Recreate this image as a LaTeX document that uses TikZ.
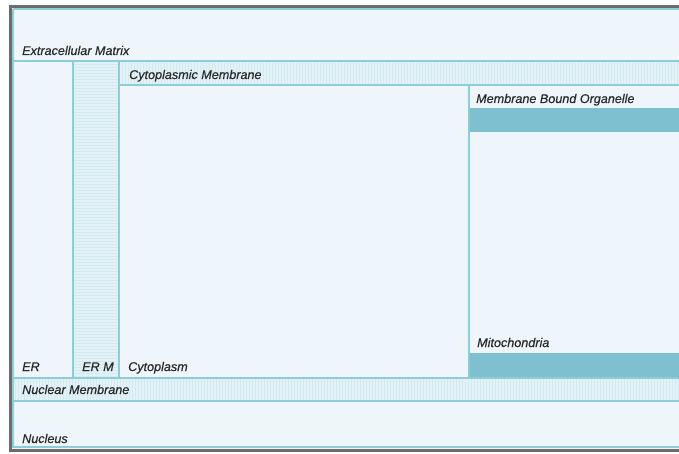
\documentclass[tikz,border=0pt]{standalone}
\usepackage{fontspec}
\setmainfont{Liberation Sans}
\newfontfamily\lblfont[FakeBold=0.5]{Liberation Sans}
\definecolor{cellbg}{HTML}{EEF5FB}
\definecolor{wallc}{HTML}{8DCDD8}
\definecolor{bandc}{HTML}{E3F2F7}
\definecolor{stripec}{HTML}{D3EAF1}
\definecolor{organc}{HTML}{7EC0D0}
\definecolor{framec}{HTML}{6C6C6C}
\definecolor{textc}{HTML}{2A2A2A}

\begin{document}
\begin{tikzpicture}[x=1pt,y=-1pt,
    wall/.style={wallc,line width=2.5pt},
    lbl/.style={anchor=base west,inner sep=0pt,text=textc,font=\lblfont\fontsize{12.6}{15}\selectfont\itshape}]
    \useasboundingbox (0,0) rectangle (679,454);
    \fill[white] (0,0) rectangle (679,454);
    \fill[cellbg] (10,6) rectangle (679,451);
    % membrane bands with fine stripes
    \fill[bandc] (74,62) rectangle (118,377);
    \foreach \y in {64,67,...,376} \draw[stripec,line width=0.8pt] (74,\y) -- (118,\y);
    \fill[bandc] (120,62) rectangle (679,84);
    \foreach \x in {122,125,...,679} \draw[stripec,line width=0.8pt] (\x,62) -- (\x,84);
    \fill[bandc] (13,379) rectangle (679,400);
    \foreach \x in {15,18,...,679} \draw[stripec,line width=0.8pt] (\x,379) -- (\x,400);
    % organelle bars
    \fill[organc] (470,108) rectangle (679,132);
    \fill[organc] (470,353) rectangle (679,377);
    % walls
    \draw[wall] (13,9) -- (679,9);
    \draw[wall] (13,9) -- (13,448);
    \draw[wall] (13,447) -- (679,447);
    \draw[wall] (13,61) -- (679,61);
    \draw[wall] (73,61) -- (73,378);
    \draw[wall] (119,61) -- (119,378);
    \draw[wall] (119,85) -- (679,85);
    \draw[wall] (469,85) -- (469,378);
    \draw[wall] (13,378) -- (679,378);
    \draw[wall] (13,401) -- (679,401);
    % outer frame
    \draw[framec,line width=3pt] (10.5,451) -- (10.5,6.5) -- (679,6.5);
    \draw[framec,line width=2.5pt] (9,450.5) -- (679,450.5);
    % labels
    \node[lbl] (ecm) at (22,55) {Extracellular Matrix};
    \node[lbl] (cytmem) at (129,79) {Cytoplasmic Membrane};
    \node[lbl] (mbo) at (476,103) {Membrane Bound Organelle};
    \node[lbl] (mito) at (477,347) {Mitochondria};
    \node[lbl] (er) at (22,371) {ER};
    \node[lbl] (erm) at (82,371) {ER M};
    \node[lbl] (cyto) at (128,371) {Cytoplasm};
    \node[lbl] (nucmem) at (22,394) {Nuclear Membrane};
    \node[lbl] (nucleus) at (22,443) {Nucleus};
\end{tikzpicture}
\end{document}
